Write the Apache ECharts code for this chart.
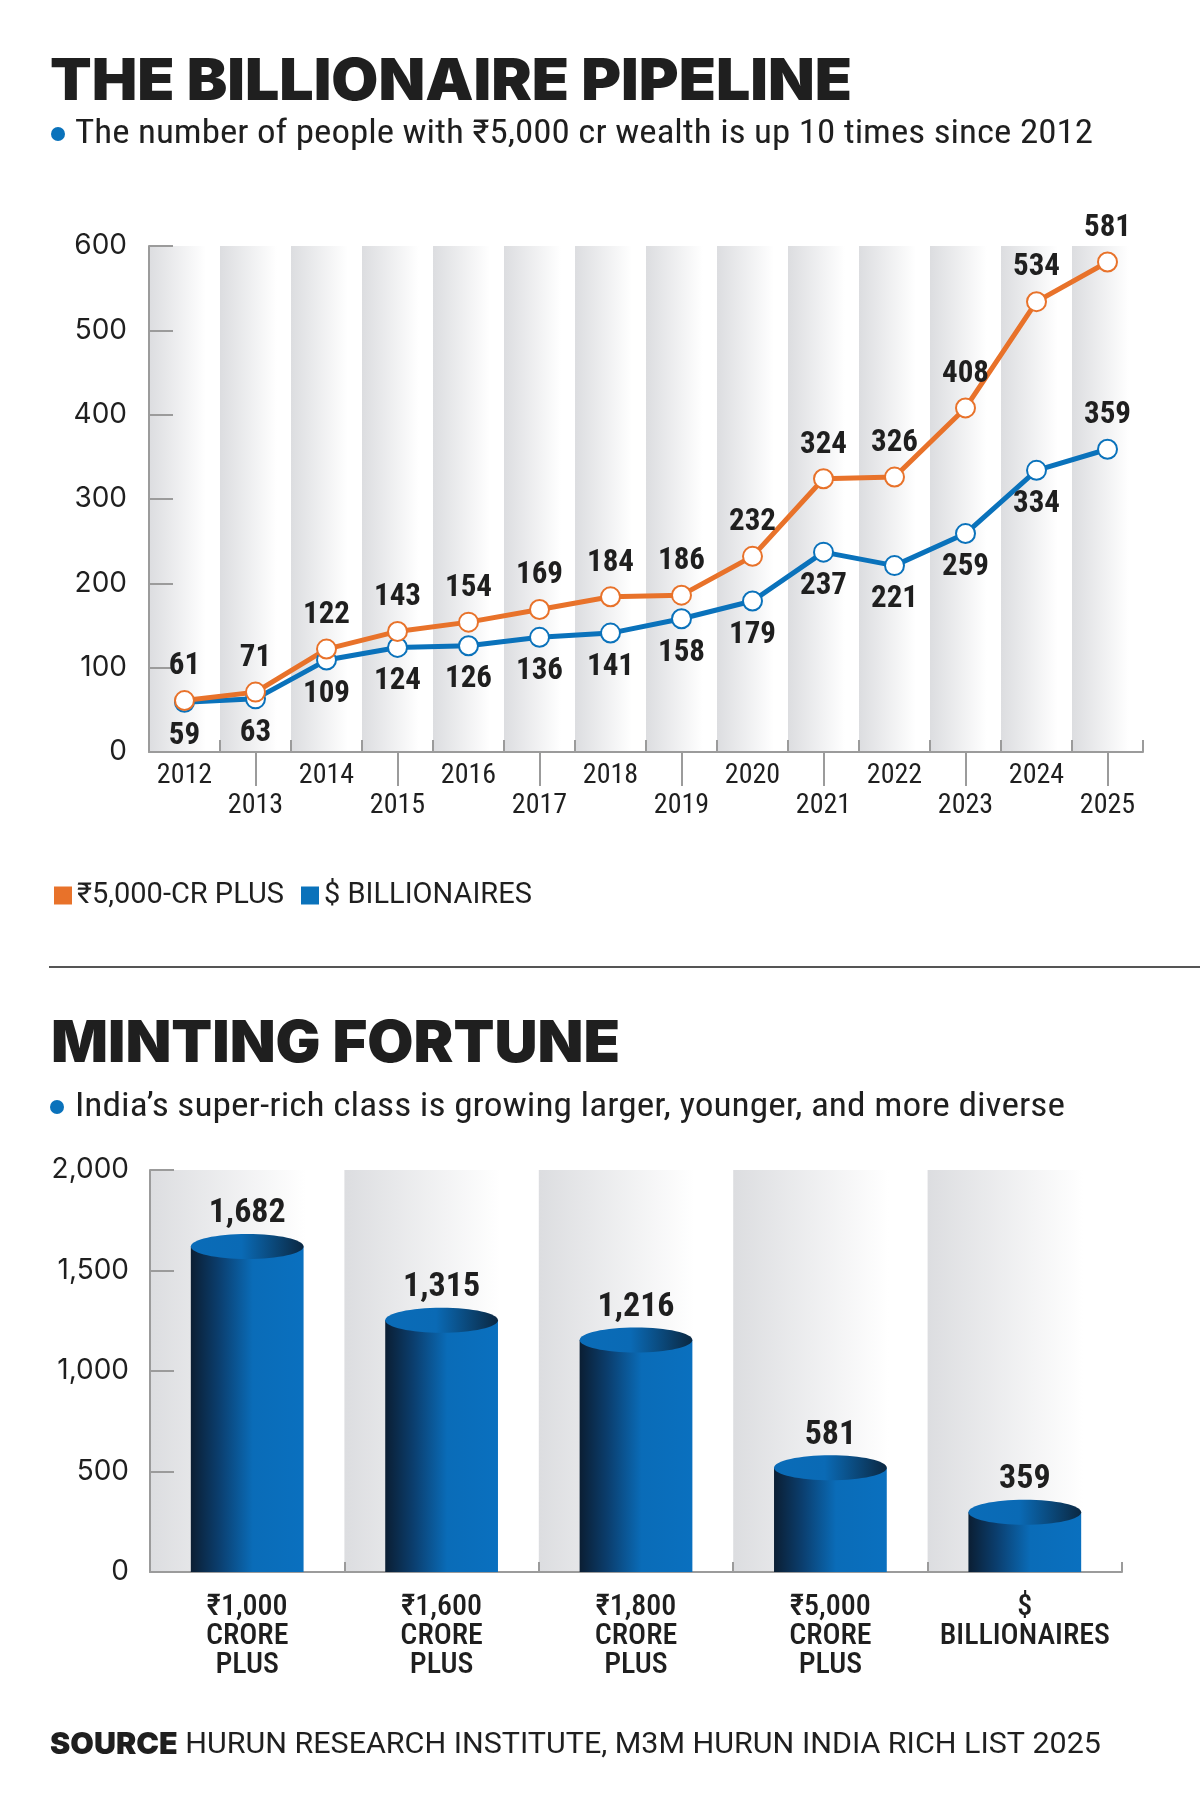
<!DOCTYPE html>
<html lang="en">
<head>
<meta charset="utf-8">
<title>The Billionaire Pipeline</title>
<script src="https://cdn.jsdelivr.net/npm/echarts@6.0.0/dist/echarts.min.js"></script>
<style>
    html, body { margin: 0; padding: 0; background: #fff; }
    #main { width: 1200px; height: 1820px; }
</style>
</head>
<body>
<div id="main"></div>
<script type="text/javascript">
    // data
    var years = ['2012', '2013', '2014', '2015', '2016', '2017', '2018',
        '2019', '2020', '2021', '2022', '2023', '2024', '2025'];
    var crorePlus = [61, 71, 122, 143, 154, 169, 184, 186, 232, 324, 326, 408, 534, 581];
    var billionaires = [59, 63, 109, 124, 126, 136, 141, 158, 179, 237, 221, 259, 334, 359];
    var billionaireLabelsAbove = ['2025'];

    var wealthBands = ['₹1,000\nCRORE\nPLUS', '₹1,600\nCRORE\nPLUS', '₹1,800\nCRORE\nPLUS',
        '₹5,000\nCRORE\nPLUS', '$\nBILLIONAIRES'];
    var bandCounts = [1682, 1315, 1216, 581, 359];

    var ORANGE = '#e8722a';
    var BLUE = '#0a72bb';
    var INK = '#1f1f1f';
    var AXIS = '#9b9b9b';

    var NARROW = '"Roboto Condensed", "Noto Sans", sans-serif';
    var SANS = 'Roboto, "Noto Sans", sans-serif';
    var GEO = 'Inter, Roboto, "Noto Sans", sans-serif';
    var HEAVY = 'Inter, Roboto, sans-serif';

    var measureCtx = document.createElement('canvas').getContext('2d');
    function fitScale(text, font, width) {
        measureCtx.font = font;
        return width / measureCtx.measureText(text).width;
    }

    function headline(text, font, x, y, width, fill) {
        return {
            type: 'text', x: x, y: y, scaleX: fitScale(text, font, width),
            style: {text: text, font: font, fill: fill || INK, align: 'left', verticalAlign: 'middle',
                textAlign: 'left', textVerticalAlign: 'middle'}
        };
    }

    function bandStripe() {
        return new echarts.graphic.LinearGradient(0, 0, 1, 0, [
            {offset: 0, color: '#dcdde0'},
            {offset: 0.8, color: '#ffffff'},
            {offset: 1, color: '#ffffff'}
        ]);
    }

    var bodyFill = new echarts.graphic.LinearGradient(0, 0, 1, 0, [
        {offset: 0, color: '#0b1e33'},
        {offset: 0.25, color: '#0b3e6e'},
        {offset: 0.55, color: '#0a6cb8'},
        {offset: 1, color: '#0a70bf'}
    ]);
    var capFill = new echarts.graphic.LinearGradient(0, 0, 1, 0, [
        {offset: 0, color: '#0a6cb8'},
        {offset: 0.45, color: '#0a6ab5'},
        {offset: 1, color: '#0b2842'}
    ]);

    var TITLE_FONT = '900 58px ' + HEAVY;
    var SUB_FONT = '33px ' + NARROW;
    var SOURCE_FONT = '30px ' + SANS;
    var sourceText = 'SOURCE HURUN RESEARCH INSTITUTE, M3M HURUN INDIA RICH LIST 2025';

    var myChart = echarts.init(document.getElementById('main'));

    myChart.setOption({
        backgroundColor: '#ffffff',
        animation: false,
        graphic: [
            headline('THE BILLIONAIRE PIPELINE', TITLE_FONT, 50, 83, 802),
            {type: 'circle', shape: {cx: 58, cy: 134, r: 7}, style: {fill: BLUE}},
            headline('The number of people with ₹5,000 cr wealth is up 10 times since 2012', SUB_FONT, 75, 135, 1018),
            {type: 'line', shape: {x1: 49, y1: 967, x2: 1200, y2: 967}, style: {stroke: '#555', lineWidth: 2}},
            headline('MINTING FORTUNE', TITLE_FONT, 51, 1045, 569),
            {type: 'circle', shape: {cx: 57, cy: 1107, r: 7}, style: {fill: BLUE}},
            headline('India’s super-rich class is growing larger, younger, and more diverse', SUB_FONT, 75, 1108, 990),
            {
                type: 'text', x: 50, y: 1745,
                scaleX: fitScale(sourceText, SOURCE_FONT, 1038),
                style: {
                    text: '{b|SOURCE} HURUN RESEARCH INSTITUTE, M3M HURUN INDIA RICH LIST 2025',
                    font: SOURCE_FONT, fill: INK, align: 'left', verticalAlign: 'middle',
                    textAlign: 'left', textVerticalAlign: 'middle',
                    rich: {b: {fontWeight: 900, fontFamily: HEAVY, fontSize: 30, fill: INK, color: INK}}
                }
            }
        ],
        legend: {
            left: 49,
            top: 876,
            icon: 'rect',
            itemWidth: 18,
            itemHeight: 18,
            itemGap: 17,
            data: ['₹5,000-CR PLUS', '$ BILLIONAIRES'],
            textStyle: {color: INK, fontSize: 29, fontFamily: SANS}
        },
        grid: [
            {left: 149, top: 246, width: 994, height: 506},
            {left: 150, top: 1170, width: 972, height: 402}
        ],
        xAxis: [
            {
                type: 'category', gridIndex: 0, data: years, boundaryGap: true,
                axisLine: {lineStyle: {color: AXIS, width: 2}},
                axisTick: {show: true, inside: true, length: 12, interval: 0, lineStyle: {color: AXIS, width: 2}},
                axisLabel: {
                    interval: function (i) { return i % 2 === 0; },
                    margin: 10, color: INK, fontSize: 28, fontFamily: NARROW
                },
                splitArea: {show: true, interval: 0, areaStyle: {color: [bandStripe()]}}
            },
            {
                type: 'category', gridIndex: 0, data: years, boundaryGap: true, position: 'bottom',
                axisLine: {show: false},
                axisTick: {
                    show: true, alignWithLabel: true, length: 34,
                    interval: function (i) { return i % 2 === 1; },
                    lineStyle: {color: AXIS, width: 2}
                },
                axisLabel: {
                    interval: function (i) { return i % 2 === 1; },
                    margin: 40, color: INK, fontSize: 28, fontFamily: NARROW
                }
            },
            {
                type: 'category', gridIndex: 1, data: wealthBands, boundaryGap: true,
                axisLine: {lineStyle: {color: AXIS, width: 2}},
                axisTick: {show: true, inside: true, length: 10, interval: 0, lineStyle: {color: AXIS, width: 2}},
                axisLabel: {
                    interval: 0, margin: 21, color: INK, fontSize: 30, fontWeight: 500,
                    lineHeight: 29, fontFamily: NARROW
                },
                splitArea: {show: true, interval: 0, areaStyle: {color: [bandStripe()]}}
            }
        ],
        yAxis: [
            {
                type: 'value', gridIndex: 0, min: 0, max: 600, interval: 100,
                axisLine: {show: true, lineStyle: {color: AXIS, width: 2}},
                axisTick: {show: true, inside: true, length: 24, lineStyle: {color: AXIS, width: 2}},
                splitLine: {show: false},
                axisLabel: {margin: 22, color: INK, fontSize: 28, fontFamily: GEO}
            },
            {
                type: 'value', gridIndex: 1, min: 0, max: 2000, interval: 500,
                axisLine: {show: true, lineStyle: {color: AXIS, width: 2}},
                axisTick: {show: true, inside: true, length: 24, lineStyle: {color: AXIS, width: 2}},
                splitLine: {show: false},
                axisLabel: {
                    margin: 21, color: INK, fontSize: 28, fontFamily: GEO,
                    formatter: function (v) { return v.toLocaleString('en-US'); }
                }
            }
        ],
        series: [
            {
                name: '$ BILLIONAIRES',
                type: 'line',
                xAxisIndex: 0, yAxisIndex: 0,
                color: BLUE,
                symbol: 'emptyCircle',
                symbolSize: 19,
                lineStyle: {width: 5, color: BLUE},
                itemStyle: {color: BLUE, borderWidth: 5},
                label: {
                    show: true, position: 'bottom', distance: 8,
                    color: INK, fontSize: 31, fontWeight: 'bold', fontFamily: NARROW
                },
                data: billionaires.map(function (v, i) {
                    if (billionaireLabelsAbove.indexOf(years[i]) >= 0) {
                        return {value: v, label: {position: 'top'}};
                    }
                    return v;
                })
            },
            {
                name: '₹5,000-CR PLUS',
                type: 'line',
                xAxisIndex: 0, yAxisIndex: 0,
                color: ORANGE,
                symbol: 'emptyCircle',
                symbolSize: 19,
                lineStyle: {width: 5, color: ORANGE},
                itemStyle: {color: ORANGE, borderWidth: 5},
                label: {
                    show: true, position: 'top', distance: 8,
                    color: INK, fontSize: 31, fontWeight: 'bold', fontFamily: NARROW
                },
                data: crorePlus
            },
            {
                name: 'bands',
                type: 'custom',
                xAxisIndex: 2, yAxisIndex: 1,
                renderItem: function (params, api) {
                    var top = api.coord([api.value(0), api.value(1)]);
                    var base = api.coord([api.value(0), 0]);
                    var w = api.size([1, 0])[0] * 0.58;
                    var ry = 12.5;
                    var txt = api.value(1).toLocaleString('en-US');
                    return {
                        type: 'group',
                        children: [
                            {
                                type: 'rect',
                                shape: {x: top[0] - w / 2, y: top[1] + ry, width: w, height: base[1] - top[1] - ry},
                                style: {fill: bodyFill}
                            },
                            {
                                type: 'ellipse',
                                shape: {cx: top[0], cy: top[1] + ry, rx: w / 2, ry: ry},
                                style: {fill: capFill}
                            },
                            {
                                type: 'text',
                                x: top[0], y: top[1] - 3,
                                style: {
                                    text: txt, fill: INK,
                                    font: 'bold 34px ' + NARROW,
                                    align: 'center', verticalAlign: 'bottom',
                                    textAlign: 'center', textVerticalAlign: 'bottom'
                                }
                            }
                        ]
                    };
                },
                data: bandCounts.map(function (v, i) { return [i, v]; })
            }
        ]
    });
</script>
</body>
</html>
